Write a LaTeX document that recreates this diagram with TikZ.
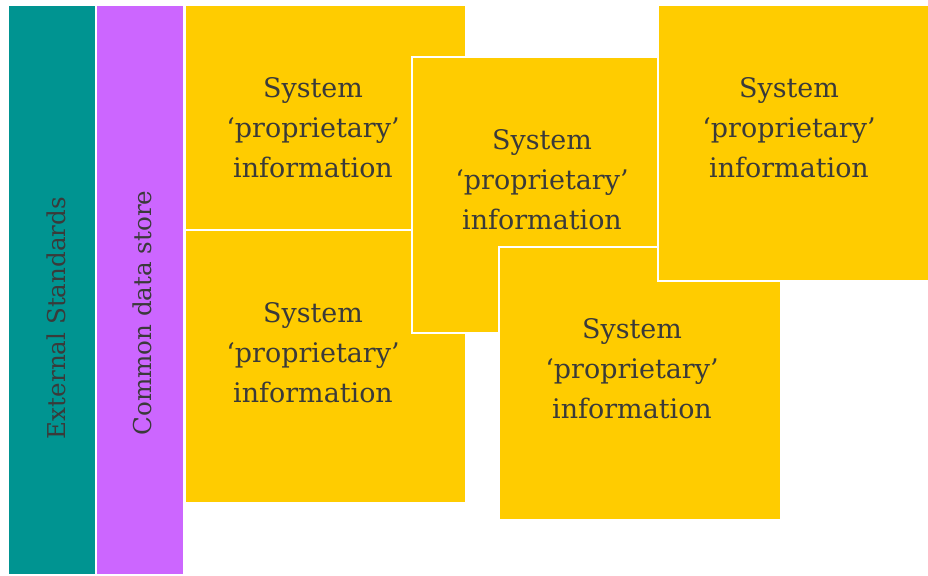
\documentclass[tikz,border=0pt]{standalone}
\usepackage{fontspec}
\setmainfont{DejaVu Serif}

\definecolor{stdteal}{HTML}{009491}
\definecolor{storepurple}{HTML}{CC66FF}
\definecolor{sysyellow}{HTML}{FFCC00}
\definecolor{inkgray}{HTML}{3A3A3A}

\tikzset{
	colbox/.style={draw=white, line width=1pt},
	sysbox/.style={fill=sysyellow, draw=white, line width=1pt},
	systext/.style={align=center, text=inkgray, inner sep=0pt,
		font=\fontsize{23}{34}\selectfont},
	coltext/.style={rotate=90, text=inkgray, inner sep=0pt,
		font=\fontsize{21}{25}\selectfont}
}

\begin{document}
\begin{tikzpicture}[x=0.03cm, y=-0.03cm]
	\useasboundingbox (0,0) rectangle (928,575);

	% the two shared columns on the left
	\draw [colbox, fill=stdteal] (8,5) rectangle (96,575);
	\draw [colbox, fill=storepurple] (96,5) rectangle (184,575);

	\node [coltext] (ext) at (56,318) {External Standards};
	\node [coltext] (store) at (142,313) {Common data store};

	% system blocks, later ones lie over earlier ones
	\draw [sysbox] (185,5) rectangle (466,230);
	\draw [sysbox] (185,230) rectangle (466,503);
	\draw [sysbox] (412,57) rectangle (658,333);
	\draw [sysbox] (499,247) rectangle (781,520);
	\draw [sysbox] (658,5) rectangle (929,281);

	\node [systext] (sysA) at (313,128) {System\\‘proprietary’\\information};
	\node [systext] (sysB) at (313,353) {System\\‘proprietary’\\information};
	\node [systext] (sysC) at (542,180) {System\\‘proprietary’\\information};
	\node [systext] (sysD) at (632,369) {System\\‘proprietary’\\information};
	\node [systext] (sysE) at (789,128) {System\\‘proprietary’\\information};
\end{tikzpicture}
\end{document}
